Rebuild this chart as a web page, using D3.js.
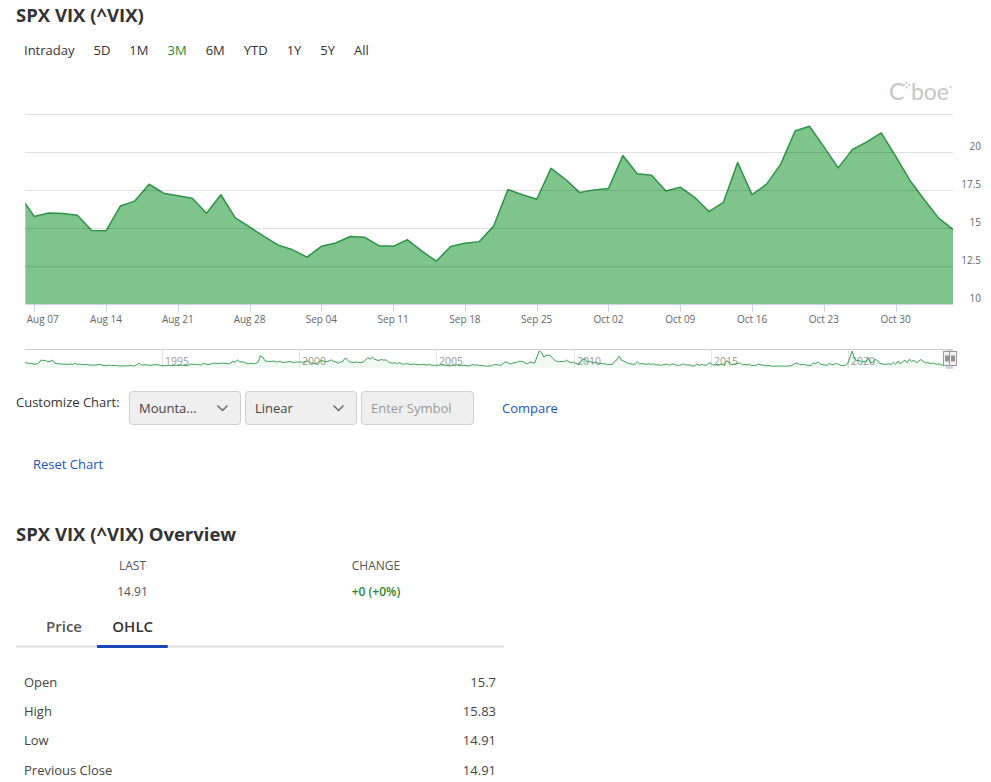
<!DOCTYPE html>
<html><head><meta charset="utf-8">
<script src="https://cdn.jsdelivr.net/npm/d3@7"></script>
<style>
html,body{margin:0;padding:0;background:#fff;}
svg{display:block;font-family:"Open Sans",sans-serif;}
</style></head><body>
<svg id="c" width="991" height="782"></svg>
<script>
// ---------------- data ----------------
const dates = [
 "2023-08-04","2023-08-07","2023-08-08","2023-08-09","2023-08-10","2023-08-11",
 "2023-08-14","2023-08-15","2023-08-16","2023-08-17","2023-08-18",
 "2023-08-21","2023-08-22","2023-08-23","2023-08-24","2023-08-25",
 "2023-08-28","2023-08-29","2023-08-30","2023-08-31","2023-09-01",
 "2023-09-04","2023-09-05","2023-09-06","2023-09-07","2023-09-08",
 "2023-09-11","2023-09-12","2023-09-13","2023-09-14","2023-09-15",
 "2023-09-18","2023-09-19","2023-09-20","2023-09-21","2023-09-22",
 "2023-09-25","2023-09-26","2023-09-27","2023-09-28","2023-09-29",
 "2023-10-02","2023-10-03","2023-10-04","2023-10-05","2023-10-06",
 "2023-10-09","2023-10-10","2023-10-11","2023-10-12","2023-10-13",
 "2023-10-16","2023-10-17","2023-10-18","2023-10-19","2023-10-20",
 "2023-10-23","2023-10-24","2023-10-25","2023-10-26","2023-10-27",
 "2023-10-30","2023-10-31","2023-11-01","2023-11-02","2023-11-03"
];
const closes = [
 17.10,15.77,15.99,15.96,15.85,14.84,
 14.82,16.46,16.78,17.89,17.30,
 17.13,16.97,15.98,17.20,15.68,
 15.08,14.45,13.88,13.57,13.09,
 13.80,14.02,14.45,14.40,13.84,
 13.80,14.23,13.48,12.82,13.79,
 14.00,14.11,15.14,17.54,17.20,
 16.90,18.94,18.22,17.34,17.52,
 17.61,19.78,18.58,18.49,17.45,
 17.70,17.03,16.09,16.69,19.32,
 17.21,17.88,19.22,21.40,21.71,
 20.37,18.97,20.19,20.68,21.27,
 19.75,18.14,16.87,15.66,14.91
];
const yTicks = [10, 12.5, 15, 17.5, 20, 22.5];
const rangeButtons = ["Intraday","5D","1M","3M","6M","YTD","1Y","5Y","All"];
const activeRange = "3M";

const navStartYear = 1990;
const navMonthly = [
 [21,21,19,19,17,17,20,30,29,29,25,26],
 [30,20,19,18,17,17,16,16,17,16,20,15],
 [17,16,15,16,14,14,13,14,15,16,13,12],
 [12,14,12,13,12,11,11,11,12,11,13,11],
 [11,15,20,14,14,15,13,13,14,15,15,13],
 [12,12,12,12,12,12,13,13,13,13,12,12],
 [15,17,16,16,16,13,19,17,16,16,19,20],
 [19,19,20,20,19,18,20,26,23,31,24,25],
 [23,19,18,20,18,19,23,44,40,28,26,25],
 [26,27,23,26,25,22,23,24,26,22,23,24],
 [24,23,24,26,27,21,20,18,21,26,29,26],
 [25,27,31,26,24,20,24,25,36,32,24,23],
 [22,24,22,22,24,30,38,33,40,33,30,29],
 [32,30,31,24,21,20,21,19,22,17,17,18],
 [17,15,17,16,15,15,16,15,14,16,13,13],
 [13,13,14,14,13,12,11,13,12,15,12,12],
 [13,12,11,12,16,13,14,12,12,11,10,11],
 [11,15,15,14,13,16,24,23,18,18,22,22],
 [26,26,25,20,18,24,22,20,40,60,55,40],
 [45,46,44,36,28,26,25,26,25,30,24,22],
 [24,19,17,22,32,34,23,26,23,21,23,18],
 [19,18,18,15,16,16,25,31,43,30,27,23],
 [19,18,16,17,24,17,19,17,16,18,16,18],
 [14,15,13,14,16,17,13,17,17,13,13,14],
 [18,14,14,14,11,11,17,12,16,14,13,19],
 [21,13,15,14,14,18,12,28,24,15,16,18],
 [20,20,14,16,14,16,12,13,13,17,14,14],
 [11,12,12,10,10,11,10,11,10,10,11,11],
 [14,20,20,16,15,16,13,13,12,21,18,25],
 [17,15,14,13,19,15,16,19,16,13,12,14],
 [19,40,60,34,28,30,24,26,26,38,21,23],
 [33,28,19,18,16,16,18,16,23,16,27,17],
 [25,30,21,33,26,29,22,26,32,26,21,22],
 [19,20,19,16,18,14,13,14,17,18,15]
];
const navYearTicks = [1995, 2000, 2005, 2010, 2015, 2020];

const overviewHeads = ["LAST", "CHANGE"];
const overviewVals = ["14.91", "+0 (+0%)"];
const tabs = ["Price", "OHLC"];
const ohlcLabels = ["Open", "High", "Low", "Previous Close"];
const ohlcValues = ["15.7", "15.83", "14.91", "14.91"];

// ---------------- drawing ----------------
const svg = d3.select("#c");
const parse = d3.timeParse("%Y-%m-%d");
const green = "#1e8a32";
const blue = "#1a55c4";

// Title
svg.append("text").attr("x", 16).attr("y", 22).attr("font-size", 18.5).attr("font-weight", 700)
  .attr("fill", "#333").text("SPX VIX (^VIX)");

// Range selector
{
  let cx = 24;
  rangeButtons.forEach(b => {
    const t = svg.append("text").attr("x", cx).attr("y", 55).attr("font-size", 13)
      .attr("fill", b === activeRange ? green : "#333").text(b);
    cx += t.node().getComputedTextLength() + 19;
  });
}

// Cboe logo
{
  const lg = svg.append("g").attr("fill", "#c6c6c6");
  lg.append("text").attr("x", 889).attr("y", 100).attr("font-size", 23)
    .attr("font-family", "Lato, 'Open Sans', sans-serif").text("C");
  lg.append("text").attr("x", 949).attr("y", 100).attr("text-anchor", "end").attr("font-size", 23)
    .attr("font-family", "Lato, 'Open Sans', sans-serif").text("boe");
  [[904, 85], [906.5, 83], [906.5, 87.5], [909, 85]].forEach(([cx, cy]) =>
    lg.append("circle").attr("cx", cx).attr("cy", cy).attr("r", 1.1));
  lg.append("circle").attr("cx", 950.5).attr("cy", 87).attr("r", 1);
}

// Main chart
const plot = {left: 25.3, right: 953, top: 114.3, bottom: 304};
const x = d3.scalePoint().domain(dates).range([19.94, 953]);
const y = d3.scaleLinear().domain([10, 22.5]).range([plot.bottom, plot.top]);
const pts = dates.map((d, i) => ({d, v: closes[i]}));

svg.append("clipPath").attr("id", "clip").append("rect")
  .attr("x", plot.left).attr("y", 0).attr("width", plot.right - plot.left).attr("height", plot.bottom + 1);

const cg = svg.append("g").attr("clip-path", "url(#clip)");
cg.append("path").datum(pts)
  .attr("d", d3.area().x(p => x(p.d)).y0(y(10)).y1(p => y(p.v)))
  .attr("fill", "#7fc48d");
cg.append("path").datum(pts)
  .attr("d", d3.line().x(p => x(p.d)).y(p => y(p.v)))
  .attr("fill", "none").attr("stroke", "#2a9443").attr("stroke-width", 1.5).attr("stroke-linejoin", "round");

// gridlines (above series)
svg.append("g").selectAll("line").data(yTicks.filter(t => t > 10)).join("line")
  .attr("x1", plot.left).attr("x2", plot.right)
  .attr("y1", t => Math.round(y(t)) + 0.5).attr("y2", t => Math.round(y(t)) + 0.5)
  .attr("stroke", "rgba(0,0,0,0.12)").attr("stroke-width", 1);

// y labels
svg.append("g").selectAll("text").data(yTicks.filter(t => t < 22.5)).join("text")
  .attr("x", 981).attr("y", t => y(t) - 2).attr("text-anchor", "end")
  .attr("font-size", 10).attr("fill", "#666").text(t => t);

// x axis
svg.append("line").attr("x1", plot.left).attr("x2", plot.right)
  .attr("y1", plot.bottom + 0.5).attr("y2", plot.bottom + 0.5).attr("stroke", "#ccd6eb");
const fmt = d3.timeFormat("%b %d");
const mondays = dates.filter(d => parse(d).getDay() === 1);
const xg = svg.append("g");
mondays.forEach(d => {
  const px = Math.round(x(d)) + 0.5;
  xg.append("line").attr("x1", px).attr("x2", px).attr("y1", plot.bottom).attr("y2", plot.bottom + 8)
    .attr("stroke", "#ccd6eb");
  const t = xg.append("text").attr("x", x(d)).attr("y", 322.5).attr("text-anchor", "middle")
    .attr("font-size", 10).attr("fill", "#666").text(fmt(parse(d)));
  const w = t.node().getComputedTextLength();
  if (x(d) - w / 2 < plot.left + 1) t.attr("x", plot.left + 1.5 + w / 2);
});

// Navigator
const navEnd = parse(dates[dates.length - 1]);
const navPts = [];
navMonthly.forEach((row, yi) => row.forEach((v, m) => navPts.push({t: new Date(navStartYear + yi, m, 1), v})));
const nx = d3.scaleTime().domain([new Date(navStartYear, 0, 1), navEnd]).range([25, 953]);
const ny = d3.scaleLinear().domain([9, 60]).range([366.5, 351]);
const ng = svg.append("g");
ng.append("line").attr("x1", 25).attr("x2", 953).attr("y1", 349.5).attr("y2", 349.5).attr("stroke", "#cccccc");
navYearTicks.forEach(yr => {
  const px = Math.round(nx(new Date(yr, 0, 1))) + 0.5;
  ng.append("line").attr("x1", px).attr("x2", px).attr("y1", 350).attr("y2", 368).attr("stroke", "#e6e6e6");
  ng.append("text").attr("x", px + 2.5).attr("y", 364.5).attr("font-size", 10.5).attr("fill", "#999").text(yr);
});
ng.append("path").datum(navPts)
  .attr("d", d3.area().x(p => nx(p.t)).y0(368).y1(p => ny(p.v)))
  .attr("fill", "#2a9443").attr("fill-opacity", 0.06);
ng.append("path").datum(navPts)
  .attr("d", d3.line().x(p => nx(p.t)).y(p => ny(p.v)))
  .attr("fill", "none").attr("stroke", "#3a9f52").attr("stroke-width", 1);
// selected range mask + handles
const selX0 = nx(parse(dates[0]));
ng.append("rect").attr("x", selX0).attr("y", 350).attr("width", nx(navEnd) - selX0).attr("height", 19)
  .attr("fill", "rgba(102,133,194,0.3)");
[selX0 - 3, nx(navEnd) - 4].forEach(hx => {
  const h = ng.append("g").attr("transform", `translate(${Math.round(hx) + 0.5},351.5)`);
  h.append("rect").attr("width", 7).attr("height", 14).attr("fill", "#f2f2f2").attr("stroke", "#999");
  h.append("line").attr("x1", 2.5).attr("x2", 2.5).attr("y1", 4).attr("y2", 10).attr("stroke", "#333");
  h.append("line").attr("x1", 4.5).attr("x2", 4.5).attr("y1", 4).attr("y2", 10).attr("stroke", "#333");
});

// Customize chart controls
svg.append("text").attr("x", 16).attr("y", 407).attr("font-size", 13).attr("fill", "#333").text("Customize Chart:");
const boxes = [
  {x: 129.5, w: 111, label: "Mounta...", col: "#444", chev: true},
  {x: 245.5, w: 111, label: "Linear", col: "#444", chev: true},
  {x: 361.5, w: 112, label: "Enter Symbol", col: "#999", chev: false}
];
boxes.forEach(b => {
  svg.append("rect").attr("x", b.x).attr("y", 391.5).attr("width", b.w).attr("height", 33).attr("rx", 3)
    .attr("fill", "#efefef").attr("stroke", "#cfcfcf");
  svg.append("text").attr("x", b.x + 9.5).attr("y", 412.5).attr("font-size", 13).attr("fill", b.col).text(b.label);
  if (b.chev) {
    const cx = b.x + b.w - 18, cy = 408;
    svg.append("path").attr("d", `M${cx - 5},${cy - 2.5} L${cx},${cy + 2.5} L${cx + 5},${cy - 2.5}`)
      .attr("fill", "none").attr("stroke", "#666").attr("stroke-width", 1.4);
  }
});
svg.append("text").attr("x", 502).attr("y", 412.5).attr("font-size", 13).attr("fill", blue).text("Compare");
svg.append("text").attr("x", 33).attr("y", 468.5).attr("font-size", 13).attr("fill", blue).text("Reset Chart");

// Overview
svg.append("text").attr("x", 16).attr("y", 540.5).attr("font-size", 18.5).attr("font-weight", 700)
  .attr("fill", "#333").text("SPX VIX (^VIX) Overview");
const ovX = [132.5, 376];
overviewHeads.forEach((h, i) => {
  svg.append("text").attr("x", ovX[i]).attr("y", 569.5).attr("text-anchor", "middle")
    .attr("font-size", 12).attr("fill", "#555").text(h);
  svg.append("text").attr("x", ovX[i]).attr("y", 595.5).attr("text-anchor", "middle")
    .attr("font-size", 12).attr("fill", i === 1 ? green : "#555").attr("font-weight", i === 1 ? 600 : 400)
    .text(overviewVals[i]);
});
svg.append("line").attr("x1", 16).attr("x2", 504).attr("y1", 646.5).attr("y2", 646.5)
  .attr("stroke", "#dddddd").attr("stroke-width", 2);
const tabX = [46, 112.3];
tabs.forEach((t, i) => {
  svg.append("text").attr("x", tabX[i]).attr("y", 632).attr("font-size", 15).attr("font-weight", 600)
    .attr("fill", i === 1 ? "#333" : "#555").text(t);
});
svg.append("rect").attr("x", 97).attr("y", 645).attr("width", 70.7).attr("height", 3).attr("fill", "#1a47b8");
ohlcLabels.forEach((l, i) => {
  const yy = 687 + i * 29.2;
  svg.append("text").attr("x", 24).attr("y", yy).attr("font-size", 13).attr("fill", "#444").text(l);
  svg.append("text").attr("x", 496).attr("y", yy).attr("text-anchor", "end").attr("font-size", 13)
    .attr("fill", "#444").text(ohlcValues[i]);
});
</script>
</body></html>
